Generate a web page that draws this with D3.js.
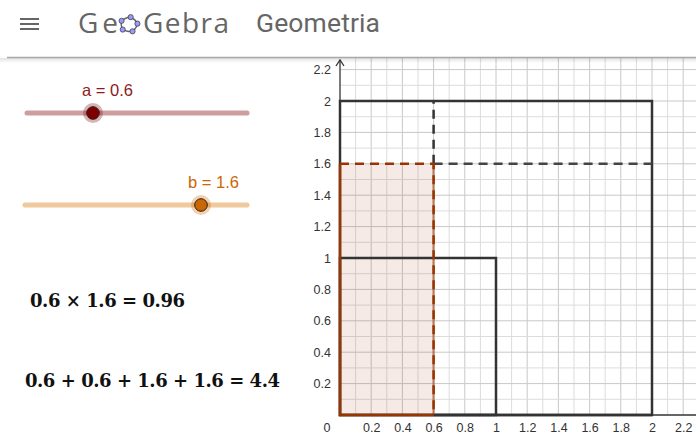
<!DOCTYPE html>
<html><head><meta charset="utf-8">
<script src="https://cdn.jsdelivr.net/npm/d3@7"></script>
<style>
html,body{margin:0;padding:0;background:#fff;overflow:hidden}
svg{display:block}
</style></head>
<body>
<script>
// ---- data ----
const appName = "GeoGebra";
const appTitle = "Geometria";
const sliderNames = ["a", "b"];
const sliderValues = [0.6, 1.6];
const sliderMin = 0, sliderMax = 2;
const sliderColors = ["#800000", "#cc6600"];
const sliderTrackColors = ["#cf9d9d", "#f0c99d"];
const squareSides = [2, 1];
const xTickValues = [0.2, 0.4, 0.6, 0.8, 1, 1.2, 1.4, 1.6, 1.8, 2, 2.2];
const xTickLabels = ["0.2", "0.4", "0.6", "0.8", "1", "1.2", "1.4", "1.6", "1.8", "2", "2.2"];
const yTickValues = [0.2, 0.4, 0.6, 0.8, 1, 1.2, 1.4, 1.6, 1.8, 2, 2.2];
const yTickLabels = ["0.2", "0.4", "0.6", "0.8", "1", "1.2", "1.4", "1.6", "1.8", "2", "2.2"];
const gridStep = 0.1;

const W = 696, H = 434;
const svg = d3.select("body").append("svg").attr("width", W).attr("height", H);

// ---- header ----
const hdr = svg.append("g");
[19, 24, 29].forEach(yy => hdr.append("line").attr("x1", 20).attr("x2", 39).attr("y1", yy).attr("y2", yy)
  .attr("stroke", "#666").attr("stroke-width", 2));
hdr.append("text").attr("x", 78).attr("y", 33).attr("font-family", "Open Sans").attr("font-size", 28)
  .attr("fill", "#666").attr("textLength", 40).text(appName.slice(0, 2));
hdr.append("text").attr("x", 143).attr("y", 33).attr("font-family", "Open Sans").attr("font-size", 28)
  .attr("fill", "#666").attr("textLength", 86).text(appName.slice(3));
// logo pentagon
const pc = [129, 24.5];
const pts = d3.range(5).map(i => {
  const ang = -Math.PI / 2 + i * 2 * Math.PI / 5 + 0.2;
  return [pc[0] + 8.5 * Math.cos(ang), pc[1] + 7.5 * Math.sin(ang)];
});
hdr.append("path").attr("d", d3.line().curve(d3.curveCardinalClosed.tension(0.3))(pts))
  .attr("fill", "none").attr("stroke", "#666").attr("stroke-width", 1.5);
hdr.selectAll("circle.lg").data(pts).enter().append("circle").attr("cx", d => d[0]).attr("cy", d => d[1])
  .attr("r", 2.6).attr("fill", "#99f").attr("stroke", "#333").attr("stroke-width", 0.7);
hdr.append("text").attr("x", 256).attr("y", 32).attr("font-family", "Roboto").attr("font-size", 26.5)
  .attr("fill", "#666").attr("textLength", 124).text(appTitle);

// header shadow line
const defs = svg.append("defs");
const lg = defs.append("linearGradient").attr("id", "sh").attr("x1", 0).attr("x2", 0).attr("y1", 0).attr("y2", 1);
lg.append("stop").attr("offset", 0).attr("stop-color", "#000").attr("stop-opacity", 0.12);
lg.append("stop").attr("offset", 1).attr("stop-color", "#000").attr("stop-opacity", 0);

// ---- graphics view ----
const x = d3.scaleLinear().domain([0, 2]).range([340, 652]);
const y = d3.scaleLinear().domain([0, 2]).range([415, 101]);
const viewTop = 58, viewRight = W;
const g = svg.append("g");

// grid
const vx = d3.range(1, 30).map(i => +(i * gridStep).toFixed(2)).filter(v => x(v) <= viewRight);
const hy = d3.range(1, 30).map(i => +(i * gridStep).toFixed(2)).filter(v => y(v) >= viewTop);
g.selectAll("line.gv").data(vx).enter().append("line")
  .attr("x1", d => x(d)).attr("x2", d => x(d)).attr("y1", y(0)).attr("y2", viewTop)
  .attr("stroke", d => Math.round(d * 10) % 2 === 0 ? "#c8c8c8" : "#dcdcdc").attr("stroke-width", 1);
g.selectAll("line.gh").data(hy).enter().append("line")
  .attr("x1", x(0)).attr("x2", viewRight).attr("y1", d => y(d)).attr("y2", d => y(d))
  .attr("stroke", d => Math.round(d * 10) % 2 === 0 ? "#c8c8c8" : "#dcdcdc").attr("stroke-width", 1);

const a = sliderValues[0], b = sliderValues[1];
// product rectangle fill
g.append("rect").attr("x", x(0)).attr("y", y(b)).attr("width", x(a) - x(0)).attr("height", y(0) - y(b))
  .attr("fill", "#993300").attr("fill-opacity", 0.1);

// squares
g.selectAll("rect.sq").data(squareSides).enter().append("rect")
  .attr("x", x(0)).attr("y", d => y(d)).attr("width", d => x(d) - x(0)).attr("height", d => y(0) - y(d))
  .attr("fill", "none").attr("stroke", "#333").attr("stroke-width", 2.5);

// dashed continuation lines
const dash = "9,6";
g.append("line").attr("x1", x(a)).attr("x2", x(a)).attr("y1", y(b)).attr("y2", y(squareSides[0]))
  .attr("stroke", "#333").attr("stroke-width", 2.5).attr("stroke-dasharray", dash);
g.append("line").attr("x1", x(a)).attr("x2", x(squareSides[0])).attr("y1", y(b)).attr("y2", y(b))
  .attr("stroke", "#444").attr("stroke-width", 2.5).attr("stroke-dasharray", dash);

// axes
const xAxis = d3.axisBottom(x).tickValues(xTickValues).tickFormat((d, i) => xTickLabels[i]).tickSize(0).tickPadding(8);
const yAxis = d3.axisLeft(y).tickValues(yTickValues).tickFormat((d, i) => yTickLabels[i]).tickSize(0).tickPadding(9);
const gx = g.append("g").attr("transform", `translate(0,${y(0)})`).call(xAxis);
const gy = g.append("g").attr("transform", `translate(${x(0)},0)`).call(yAxis);
[gx, gy].forEach(ax => {
  ax.select(".domain").remove();
  ax.selectAll("text").attr("font-family", "Liberation Sans, Arial").attr("font-size", 12.5).attr("fill", "#333");
});
g.append("text").attr("x", 327).attr("y", y(0) + 8).attr("dy", "0.71em").attr("text-anchor", "middle")
  .attr("font-family", "Liberation Sans, Arial").attr("font-size", 12.5).attr("fill", "#333").text("0");
g.append("line").attr("x1", x(0)).attr("x2", x(0)).attr("y1", y(0)).attr("y2", 60).attr("stroke", "#333").attr("stroke-width", 1.3);
g.append("path").attr("d", `M${x(0) - 4},${66} L${x(0)},${60} L${x(0) + 4},${66}`).attr("fill", "none")
  .attr("stroke", "#333").attr("stroke-width", 1.3);
g.append("line").attr("x1", x(0)).attr("x2", viewRight).attr("y1", y(0)).attr("y2", y(0)).attr("stroke", "#333").attr("stroke-width", 1.3);

// redraw bottom edge of squares over axis
g.append("line").attr("x1", x(a)).attr("x2", x(squareSides[0])).attr("y1", y(0)).attr("y2", y(0))
  .attr("stroke", "#333").attr("stroke-width", 2.5);

// product rectangle edges
const brown = "#993300";
g.append("path").attr("d", `M${x(0)},${y(b)} L${x(0)},${y(0)} L${x(a)},${y(0)}`)
  .attr("fill", "none").attr("stroke", brown).attr("stroke-width", 2.5);
g.append("line").attr("x1", x(a)).attr("x2", x(a)).attr("y1", y(0)).attr("y2", y(b))
  .attr("stroke", brown).attr("stroke-opacity", 0.5).attr("stroke-width", 2.5);
g.append("path").attr("d", `M${x(0)},${y(b)} L${x(a)},${y(b)} L${x(a)},${y(0)}`)
  .attr("fill", "none").attr("stroke", brown).attr("stroke-width", 2.5).attr("stroke-dasharray", dash);

// header line on top of grid
svg.append("rect").attr("x", 0).attr("y", 58).attr("width", W).attr("height", 5).attr("fill", "url(#sh)");
svg.append("line").attr("x1", 7).attr("x2", W).attr("y1", 57.5).attr("y2", 57.5).attr("stroke", "#a8a8a8").attr("stroke-width", 1.5);

// ---- sliders ----
const sliderX = [[27, 247], [25, 245]];
const sliderY = [113, 205];
sliderNames.forEach((nm, i) => {
  const s = d3.scaleLinear().domain([sliderMin, sliderMax]).range(sliderX[i]);
  const sg = svg.append("g");
  sg.append("line").attr("x1", s.range()[0]).attr("x2", s.range()[1] + i * 2).attr("y1", sliderY[i]).attr("y2", sliderY[i])
    .attr("stroke", sliderTrackColors[i]).attr("stroke-width", 5).attr("stroke-linecap", "round");
  const px = s(sliderValues[i]);
  sg.append("circle").attr("cx", px).attr("cy", sliderY[i]).attr("r", 10).attr("fill", sliderColors[i]).attr("fill-opacity", 0.3);
  sg.append("circle").attr("cx", px).attr("cy", sliderY[i]).attr("r", 6.3).attr("fill", sliderColors[i])
    .attr("stroke", "#222").attr("stroke-width", 1);
  sg.append("text").attr("x", px - 11 - i * 2).attr("y", sliderY[i] - 17).attr("font-family", "Liberation Sans, Arial")
    .attr("font-size", 16.5).attr("fill", i === 0 ? "#8b1c1c" : "#cc6600")
    .text(`${nm} = ${sliderValues[i]}`);
});

// ---- formulas ----
const prod = +(a * b).toFixed(4);
const per = +(2 * a + 2 * b).toFixed(4);
svg.append("text").attr("x", 30).attr("y", 306.5).attr("font-family", "DejaVu Serif, serif").attr("font-weight", "bold")
  .attr("font-size", 18).attr("fill", "#111").attr("textLength", 155).attr("lengthAdjust", "spacing")
  .text(`${a} × ${b} = ${prod}`);
svg.append("text").attr("x", 25).attr("y", 386.5).attr("font-family", "DejaVu Serif, serif").attr("font-weight", "bold")
  .attr("font-size", 18).attr("fill", "#111").attr("textLength", 255).attr("lengthAdjust", "spacing")
  .text(`${a} + ${a} + ${b} + ${b} = ${per}`);
</script>
</body></html>
